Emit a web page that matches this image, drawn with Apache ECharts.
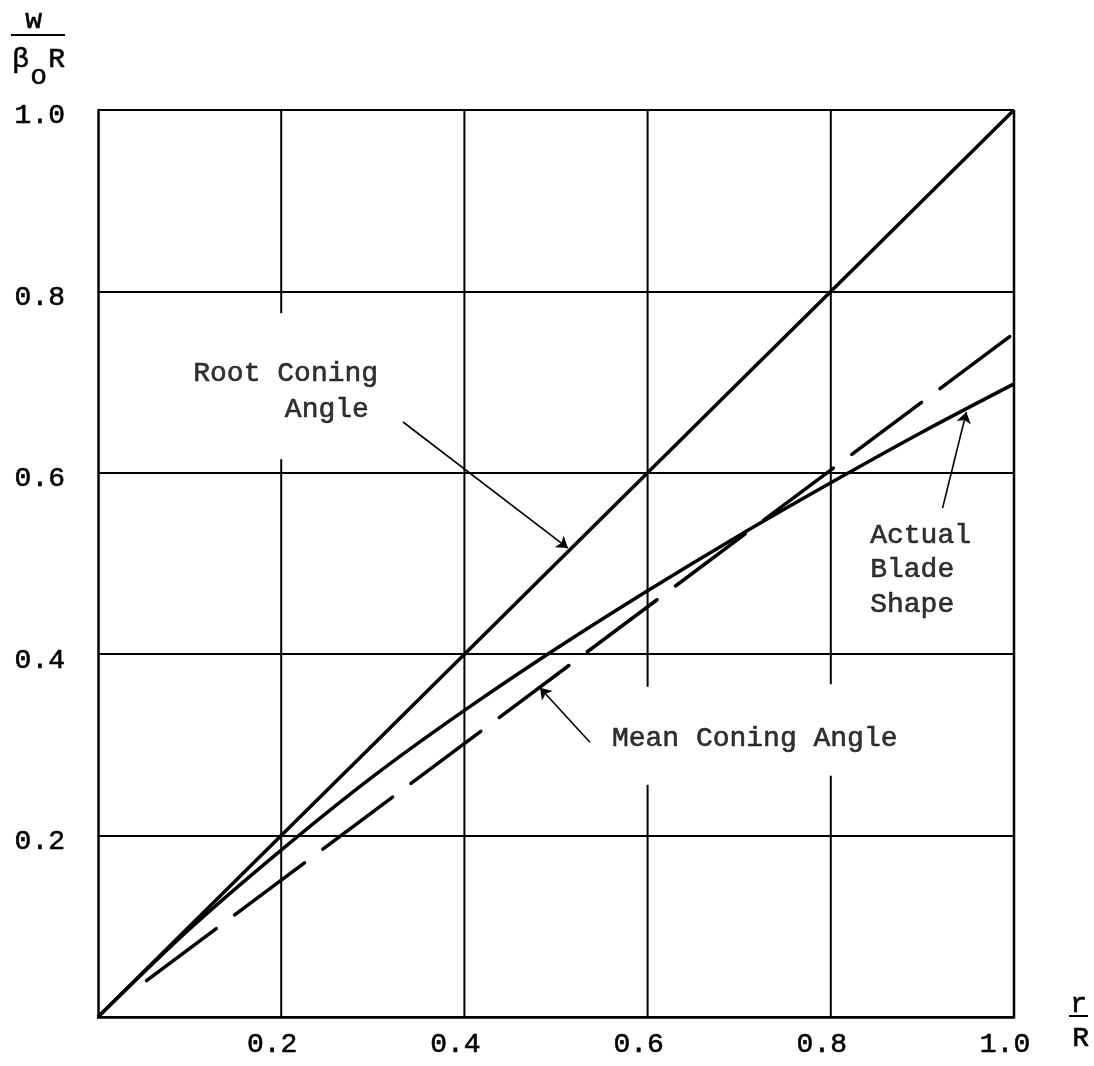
<!DOCTYPE html>
<html><head><meta charset="utf-8">
<script src="https://cdn.jsdelivr.net/npm/echarts@6/dist/echarts.min.js"></script>
<style>html,body{margin:0;padding:0;background:#fff}#c{width:1094px;height:1066px}</style>
</head><body><div id="c"></div>
<script>
// r/R sample points
const radius      = [0, 0.1, 0.2, 0.3, 0.4, 0.5, 0.6, 0.7, 0.8, 0.9, 1.0];
// w/(beta_o R)
const rootConing  = [0, 0.1, 0.2, 0.3, 0.4, 0.5, 0.6, 0.7, 0.8, 0.9, 1.0];
const actualBlade = [0, 0.097, 0.184, 0.265, 0.338, 0.406, 0.470, 0.531, 0.589, 0.645, 0.698];
const meanConingX = [0.053, 1.003];
const meanConingY = [0.040, 0.756];
// ticks
const tickValues = [0.2, 0.4, 0.6, 0.8, 1.0];
const tickLabels = ['0.2', '0.4', '0.6', '0.8', '1.0'];
// gaps in vertical grid lines (y ranges left blank behind labels)
const gridGapX   = [0.2, 0.6, 0.8];
const gridGapLow = [0.615, 0.256, 0.266];
const gridGapHigh= [0.776, 0.364, 0.367];
// annotation texts and anchor points (left edge, vertical centre)
const noteTexts = ['Root Coning', 'Angle', 'Actual', 'Blade', 'Shape', 'Mean Coning Angle'];
const noteX     = [0.104, 0.204, 0.843, 0.843, 0.843, 0.561];
const noteY     = [0.709, 0.670, 0.531, 0.493, 0.455, 0.3065];
// arrows: [from, to]
const arrowFrom = [[0.333, 0.656], [0.922, 0.561], [0.537, 0.303]];
const arrowTo   = [[0.513, 0.517], [0.948, 0.667], [0.4825, 0.363]];

const FONT = "'Liberation Mono', monospace";
const INK = '#000';
const TB = { textBorderColor: '#000', textBorderWidth: 0.6 };

function tickFmt(v) {
  const i = tickValues.findIndex(t => Math.abs(t - v) < 1e-6);
  return i < 0 ? '' : tickLabels[i];
}

const series = [];
// vertical grid lines with gaps
tickValues.forEach(x => {
  const gi = gridGapX.findIndex(g => Math.abs(g - x) < 1e-6);
  const segs = gi < 0 ? [[0, 1]] : [[0, gridGapLow[gi]], [gridGapHigh[gi], 1]];
  segs.forEach(s => {
    series.push({
      type: 'line', data: [[x, s[0]], [x, s[1]]], symbol: 'none', silent: true, z: 1,
      lineStyle: { color: INK, width: x === 1.0 ? 2.5 : 2 }
    });
  });
});
// root coning angle
series.push({
  name: 'Root Coning Angle', type: 'line', data: radius.map((r, i) => [r, rootConing[i]]),
  symbol: 'none', z: 3, lineStyle: { color: INK, width: 3.5 }
});
// actual blade shape
series.push({
  name: 'Actual Blade Shape', type: 'line', data: radius.map((r, i) => [r, actualBlade[i]]),
  symbol: 'none', smooth: 0.3, z: 3, lineStyle: { color: INK, width: 3.5 }
});
// mean coning angle (dashed)
series.push({
  name: 'Mean Coning Angle', type: 'line', data: meanConingX.map((r, i) => [r, meanConingY[i]]),
  symbol: 'none', z: 3, lineStyle: { color: INK, width: 3.5, type: [87, 23], cap: 'round' }
});
// arrows
series.push({
  type: 'lines', coordinateSystem: 'cartesian2d', silent: true, z: 4,
  symbol: ['none', 'arrow'], symbolSize: 11,
  lineStyle: { color: INK, width: 1.6, opacity: 1 },
  data: arrowFrom.map((f, i) => ({ coords: [f, arrowTo[i]] }))
});
// annotation labels
series.push({
  type: 'scatter', symbolSize: 0, silent: true, z: 5,
  data: noteTexts.map((t, i) => ({ name: t, value: [noteX[i], noteY[i]] })),
  label: Object.assign({
    show: true, position: 'right', distance: 0, formatter: '{b}',
    fontFamily: FONT, fontSize: 28, color: INK
  }, TB)
});

const chart = echarts.init(document.getElementById('c'), null, { renderer: 'canvas' });
chart.setOption({
  backgroundColor: '#fff',
  animation: false,
  grid: { left: 98, right: 80, top: 110, bottom: 49, containLabel: false },
  xAxis: {
    type: 'value', min: 0, max: 1, interval: 0.2,
    axisLine: { show: true, onZero: false, lineStyle: { color: INK, width: 2.5 } },
    axisTick: { show: false },
    splitLine: { show: false },
    axisLabel: Object.assign({
      formatter: tickFmt, margin: 14, padding: [0, 18, 0, 0],
      fontFamily: FONT, fontSize: 28, color: INK
    }, TB)
  },
  yAxis: {
    type: 'value', min: 0, max: 1, interval: 0.2,
    axisLine: { show: true, onZero: false, lineStyle: { color: INK, width: 2.5 } },
    axisTick: { show: false },
    splitLine: { show: true, lineStyle: { color: INK, width: 2 } },
    axisLabel: Object.assign({
      formatter: tickFmt, margin: 33, verticalAlign: 'top', lineHeight: 12,
      fontFamily: FONT, fontSize: 28, color: INK
    }, TB)
  },
  graphic: [
    // y-axis title: w / (beta_o R)
    { type: 'text', left: 25, top: 6, style: { text: 'w', font: "28px 'Liberation Mono'", fill: INK, stroke: INK, lineWidth: 0.6 } },
    { type: 'line', shape: { x1: 11, y1: 35, x2: 65, y2: 35 }, style: { stroke: INK, lineWidth: 2 } },
    { type: 'text', left: 12, top: 45, style: { text: '\u03B2', font: "28px 'Liberation Mono'", fill: INK, stroke: INK, lineWidth: 0.6 } },
    { type: 'text', left: 30, top: 62, style: { text: 'o', font: "28px 'Liberation Mono'", fill: INK, stroke: INK, lineWidth: 0.6 } },
    { type: 'text', left: 48, top: 45, style: { text: 'R', font: "28px 'Liberation Mono'", fill: INK, stroke: INK, lineWidth: 0.6 } },
    // x-axis title: r / R
    { type: 'text', left: 1070, top: 990, style: { text: 'r', font: "28px 'Liberation Mono'", fill: INK, stroke: INK, lineWidth: 0.6 } },
    { type: 'line', shape: { x1: 1069, y1: 1016, x2: 1088, y2: 1016 }, style: { stroke: INK, lineWidth: 2 } },
    { type: 'text', left: 1072, top: 1024, style: { text: 'R', font: "28px 'Liberation Mono'", fill: INK, stroke: INK, lineWidth: 0.6 } }
  ],
  series: series
});
</script>
</body></html>
